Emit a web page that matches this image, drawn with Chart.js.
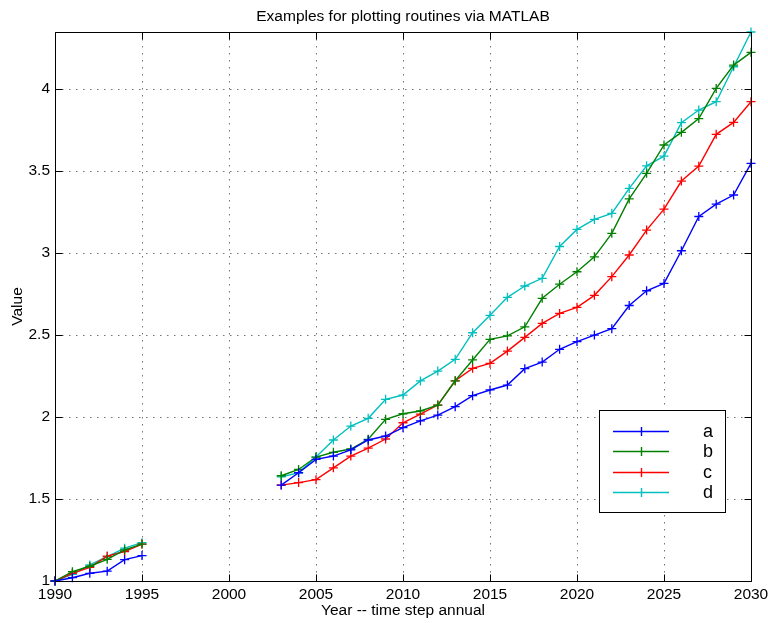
<!DOCTYPE html>
<html>
<head>
<meta charset="utf-8">
<script src="https://cdn.jsdelivr.net/npm/chart.js@4.4.1/dist/chart.umd.min.js"></script>
<style>
  html, body { margin: 0; padding: 0; background: #fff; }
  #wrap { width: 768px; height: 623px; }
</style>
</head>
<body>
<div id="wrap"><canvas id="c" width="768" height="623"></canvas></div>
<script>
// ---- data ----
const years = [];
for (let y = 1990; y <= 2030; y++) years.push(y);
const gap = [null, null, null, null, null, null, null]; // 1996-2002
const seriesA = [1.00, 1.02, 1.047, 1.06, 1.13, 1.155, ...gap,
  1.585, 1.66, 1.742, 1.762, 1.80, 1.86, 1.884, 1.935, 1.977, 2.012, 2.063, 2.13, 2.165, 2.195,
  2.295, 2.335, 2.413, 2.46, 2.50, 2.539, 2.68, 2.77, 2.815, 3.014, 3.223, 3.298, 3.354, 3.547];
const seriesB = [1.00, 1.057, 1.09, 1.132, 1.19, 1.225, ...gap,
  1.642, 1.68, 1.756, 1.785, 1.805, 1.864, 1.986, 2.02, 2.037, 2.073, 2.221, 2.348, 2.474, 2.495,
  2.55, 2.724, 2.81, 2.886, 2.977, 3.12, 3.33, 3.486, 3.659, 3.736, 3.82, 4.004, 4.146, 4.224];
const seriesC = [1.00, 1.047, 1.083, 1.152, 1.18, 1.225, ...gap,
  1.585, 1.60, 1.618, 1.69, 1.762, 1.81, 1.866, 1.965, 2.018, 2.073, 2.221, 2.297, 2.327, 2.402,
  2.486, 2.571, 2.632, 2.669, 2.742, 2.856, 2.988, 3.14, 3.268, 3.439, 3.53, 3.724, 3.797, 3.923];
const seriesD = [1.00, 1.04, 1.098, 1.148, 1.20, 1.234, ...gap,
  1.635, 1.66, 1.756, 1.86, 1.945, 1.992, 2.108, 2.134, 2.22, 2.28, 2.352, 2.514, 2.62, 2.73,
  2.799, 2.846, 3.04, 3.144, 3.205, 3.242, 3.394, 3.532, 3.591, 3.795, 3.872, 3.923, 4.136, 4.348];
const seriesLabels = ['a', 'b', 'c', 'd'];
const seriesColors = ['#0000ff', '#008000', '#ff0000', '#00bfbf'];
const allSeries = [seriesA, seriesB, seriesC, seriesD];
const xTicks = [1990, 1995, 2000, 2005, 2010, 2015, 2020, 2025, 2030];
const yTicks = [1, 1.5, 2, 2.5, 3, 3.5, 4];
const titleText = 'Examples for plotting routines via MATLAB';
const xTitle = 'Year -- time step annual';
const yTitle = 'Value';

const FONT = '"Liberation Sans", Arial, Helvetica, sans-serif';
const FS = 15.5;

const datasets = allSeries.map((s, i) => ({
  label: seriesLabels[i],
  data: years.map((yr, k) => ({ x: yr, y: s[k] })),
  borderColor: seriesColors[i],
  backgroundColor: seriesColors[i],
  borderWidth: 1.4,
  pointStyle: 'cross',
  pointRadius: 4.5,
  pointBorderWidth: 1.3,
  pointHoverRadius: 4.5,
  spanGaps: false,
  tension: 0,
  clip: false
}));

const framePlugin = {
  id: 'frame',
  afterDraw(chart) {
    const ctx = chart.ctx;
    const a = chart.chartArea;
    const xs = chart.scales.x, ys = chart.scales.y;
    ctx.save();
    ctx.strokeStyle = '#000';
    ctx.lineWidth = 1;
    const L = Math.round(a.left) + 0.5, R = Math.round(a.right) + 0.5;
    const T = Math.round(a.top) + 0.5, B = Math.round(a.bottom) + 0.5;
    ctx.beginPath();
    ctx.rect(L, T, R - L, B - T);
    const tl = 7;
    xTicks.forEach(v => {
      const px = Math.round(xs.getPixelForValue(v)) + 0.5;
      ctx.moveTo(px, B); ctx.lineTo(px, B - tl);
      ctx.moveTo(px, T); ctx.lineTo(px, T + tl);
    });
    yTicks.forEach(v => {
      const py = Math.round(ys.getPixelForValue(v)) + 0.5;
      ctx.moveTo(L, py); ctx.lineTo(L + tl, py);
      ctx.moveTo(R, py); ctx.lineTo(R - tl, py);
    });
    ctx.stroke();

    // legend box
    const bx = 599.5, by = 410.5, bw = 126, bh = 102;
    ctx.fillStyle = '#fff';
    ctx.fillRect(bx, by, bw, bh);
    ctx.strokeRect(bx, by, bw, bh);
    const rows = [430.5, 451, 471.5, 492];
    chart.data.datasets.forEach((ds, i) => {
      const yy = Math.round(rows[i]) + 0.5;
      ctx.strokeStyle = ds.borderColor;
      ctx.lineWidth = 1.4;
      ctx.beginPath();
      ctx.moveTo(613, yy); ctx.lineTo(669, yy);
      ctx.moveTo(641.5, yy - 4.5); ctx.lineTo(641.5, yy + 4.5);
      ctx.stroke();
      ctx.fillStyle = '#000';
      ctx.font = '18px ' + FONT;
      ctx.textAlign = 'left';
      ctx.textBaseline = 'middle';
      ctx.fillText(ds.label, 703, yy + 1);
    });
    ctx.restore();
  }
};

new Chart(document.getElementById('c'), {
  type: 'line',
  data: { datasets },
  plugins: [framePlugin],
  options: {
    responsive: false,
    animation: false,
    events: [],
    layout: { padding: { left: 0, right: 17, top: 0, bottom: 0 } },
    plugins: {
      legend: { display: false },
      tooltip: { enabled: false },
      title: {
        display: true,
        text: titleText,
        fullSize: false,
        color: '#000',
        font: { family: FONT, size: FS, weight: 'normal', lineHeight: 1.2 },
        padding: { top: 7.7, bottom: 5.7 }
      }
    },
    scales: {
      x: {
        type: 'linear',
        min: 1990, max: 2030,
        afterFit(s) { s.height = 42; s.paddingLeft = 0; s.paddingRight = 0; },
        afterBuildTicks(s) { s.ticks = xTicks.map(v => ({ value: v })); },
        ticks: {
          color: '#000',
          font: { family: FONT, size: FS },
          padding: 4,
          maxRotation: 0,
          autoSkip: false,
          callback: v => String(v)
        },
        grid: {
          color: 'rgba(0,0,0,0.55)',
          lineWidth: 1,
          drawTicks: false
        },
        border: { display: false, dash: [1.5, 5.5] },
        title: {
          display: true,
          text: xTitle,
          color: '#000',
          font: { family: FONT, size: FS, lineHeight: 1.2 },
          padding: { top: 0, bottom: 3 }
        }
      },
      y: {
        type: 'linear',
        min: 1, max: 4.348,
        afterFit(s) { s.width = 55; s.paddingTop = 0; s.paddingBottom = 0; },
        afterBuildTicks(s) { s.ticks = yTicks.map(v => ({ value: v })); },
        ticks: {
          color: '#000',
          font: { family: FONT, size: FS },
          padding: 5,
          autoSkip: false,
          callback: v => String(v)
        },
        grid: {
          color: 'rgba(0,0,0,0.55)',
          lineWidth: 1,
          drawTicks: false
        },
        border: { display: false, dash: [1.5, 5.5] },
        title: {
          display: true,
          text: yTitle,
          color: '#000',
          font: { family: FONT, size: FS, lineHeight: 1.2 },
          padding: { top: 8.7, bottom: 0 }
        }
      }
    }
  }
});
</script>
</body>
</html>
